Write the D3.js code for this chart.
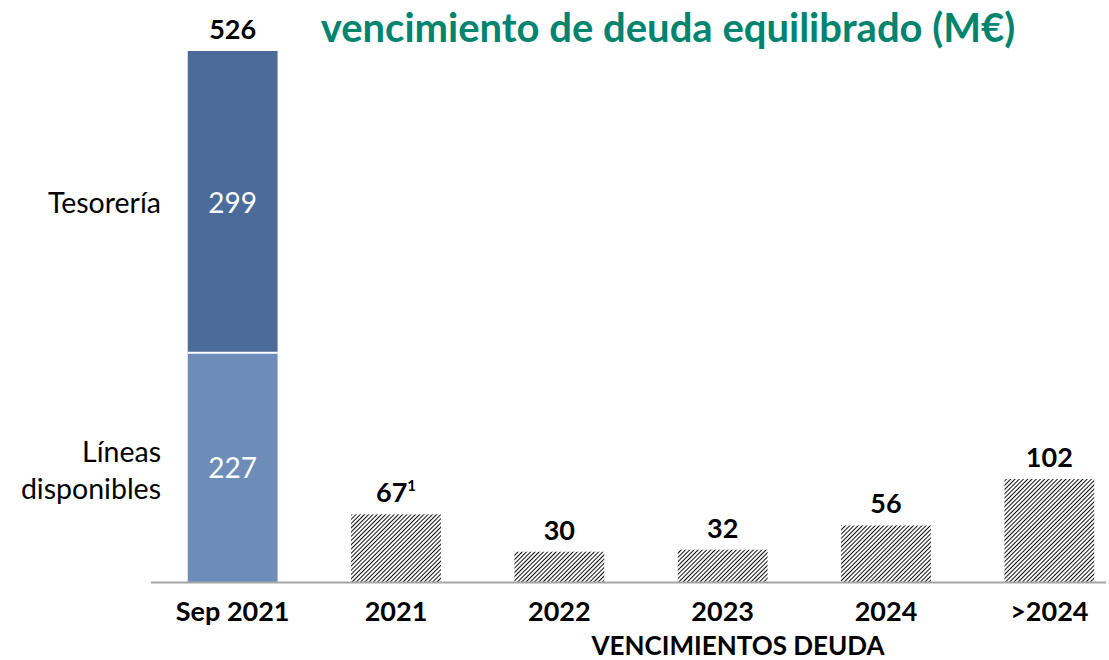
<!DOCTYPE html>
<html>
<head>
<meta charset="utf-8">
<script src="https://cdn.jsdelivr.net/npm/d3@7"></script>
<style>
  body { margin: 0; background: #fff; }
  text { font-family: Lato, "Open Sans", sans-serif; }
</style>
</head>
<body>
<script>
// chart data
var categories = ["Sep 2021", "2021", "2022", "2023", "2024", ">2024"];
var lineas = 227;      // Líneas disponibles (Sep 2021)
var tesoreria = 299;   // Tesorería (Sep 2021)
var vencimientos = [null, 67, 30, 32, 56, 102];
var valueLabels = ["526", "67", "30", "32", "56", "102"];

function main() {
    var width = 1109, height = 660;
    var baseline = 582;

    var svg = d3.select("body").append("svg")
        .attr("width", width)
        .attr("height", height);

    // hatch pattern for the maturity bars
    var step = 3;
    var defs = svg.append("defs");
    var pat = defs.append("pattern")
        .attr("id", "hatch")
        .attr("patternUnits", "userSpaceOnUse")
        .attr("width", step)
        .attr("height", step)
        .attr("patternTransform", "rotate(45)");
    pat.append("rect").attr("width", step).attr("height", step).attr("fill", "#fff");
    pat.append("line")
        .attr("x1", 0).attr("y1", 0).attr("x2", 0).attr("y2", step)
        .attr("stroke", "#000").attr("stroke-width", 1.9);

    var xScale = d3.scaleBand()
        .domain(categories)
        .range([151, 1131])
        .paddingInner(0.45)
        .paddingOuter(0.225);

    var yScale = d3.scaleLinear()
        .domain([0, 526])
        .range([baseline, 51]);

    // stacked bar
    var xs = xScale("Sep 2021"), bw = xScale.bandwidth();
    svg.append("rect")
        .attr("x", xs).attr("width", bw)
        .attr("y", yScale(lineas)).attr("height", baseline - yScale(lineas))
        .attr("fill", "#6d8cb8");
    svg.append("rect")
        .attr("x", xs).attr("width", bw)
        .attr("y", yScale(lineas + tesoreria)).attr("height", yScale(lineas) - yScale(lineas + tesoreria))
        .attr("fill", "#4b6b9a");
    // white separator
    svg.append("line")
        .attr("x1", xs).attr("x2", xs + bw)
        .attr("y1", yScale(lineas)).attr("y2", yScale(lineas))
        .attr("stroke", "#fff").attr("stroke-width", 2);

    // segment values
    svg.append("text")
        .attr("x", xs + bw / 2).attr("y", yScale(lineas / 2) + 11)
        .attr("text-anchor", "middle").attr("fill", "#fff")
        .attr("font-size", 28).text(lineas);
    svg.append("text")
        .attr("x", xs + bw / 2).attr("y", yScale(lineas + tesoreria / 2) + 11)
        .attr("text-anchor", "middle").attr("fill", "#fff")
        .attr("font-size", 28).text(tesoreria);

    // segment names
    svg.append("text")
        .attr("x", 161).attr("y", 213)
        .attr("text-anchor", "end").attr("font-size", 28.5).attr("fill", "#000")
        .text("Tesorería");
    svg.append("text")
        .attr("x", 161).attr("y", 462)
        .attr("text-anchor", "end").attr("font-size", 28.5).attr("fill", "#000")
        .text("Líneas");
    svg.append("text")
        .attr("x", 161).attr("y", 499)
        .attr("text-anchor", "end").attr("font-size", 28.5).attr("fill", "#000")
        .text("disponibles");

    // hatched bars
    var data = categories.map(function(c, i) { return {cat: c, v: vencimientos[i], label: valueLabels[i]}; });
    svg.selectAll(".hbar")
        .data(data.filter(function(d) { return d.v != null; }))
        .enter().append("rect")
        .attr("class", "hbar")
        .attr("x", function(d) { return xScale(d.cat); })
        .attr("width", bw)
        .attr("y", function(d) { return yScale(d.v); })
        .attr("height", function(d) { return baseline - yScale(d.v); })
        .attr("fill", "url(#hatch)");

    // value labels on top
    var lbl = svg.selectAll(".vlabel")
        .data(data)
        .enter().append("text")
        .attr("class", "vlabel")
        .attr("x", function(d) { return xScale(d.cat) + bw / 2; })
        .attr("y", function(d) { return yScale(d.v == null ? 526 : d.v) - 12; })
        .attr("text-anchor", "middle")
        .attr("font-size", 27).attr("font-weight", "bold").attr("fill", "#000");
    lbl.append("tspan").text(function(d) { return d.label; });
    lbl.filter(function(d) { return d.cat === "2021"; })
        .append("tspan")
        .attr("font-size", 15).attr("dy", -11)
        .text("1");

    // x axis
    var xAxis = svg.append("g")
        .attr("transform", "translate(0," + baseline + ")")
        .call(d3.axisBottom(xScale).tickSize(0).tickPadding(20));
    xAxis.select(".domain").remove();
    xAxis.append("line")
        .attr("x1", 151).attr("x2", 1106)
        .attr("y1", 0.5).attr("y2", 0.5)
        .attr("stroke", "#a6a6a6").attr("stroke-width", 2);
    xAxis.selectAll(".tick text")
        .attr("font-family", "Lato, 'Open Sans', sans-serif")
        .attr("font-size", 27).attr("font-weight", "bold").attr("fill", "#000");

    svg.append("text")
        .attr("x", 738).attr("y", 655)
        .attr("text-anchor", "middle")
        .attr("font-size", 26).attr("font-weight", "bold").attr("fill", "#000")
        .text("VENCIMIENTOS DEUDA");

    // title
    svg.append("text")
        .attr("x", 668).attr("y", 42)
        .attr("text-anchor", "middle")
        .attr("font-size", 40).attr("font-weight", "bold").attr("fill", "#00846e")
        .text("vencimiento de deuda equilibrado (M€)");
}
main();
</script>
</body>
</html>
